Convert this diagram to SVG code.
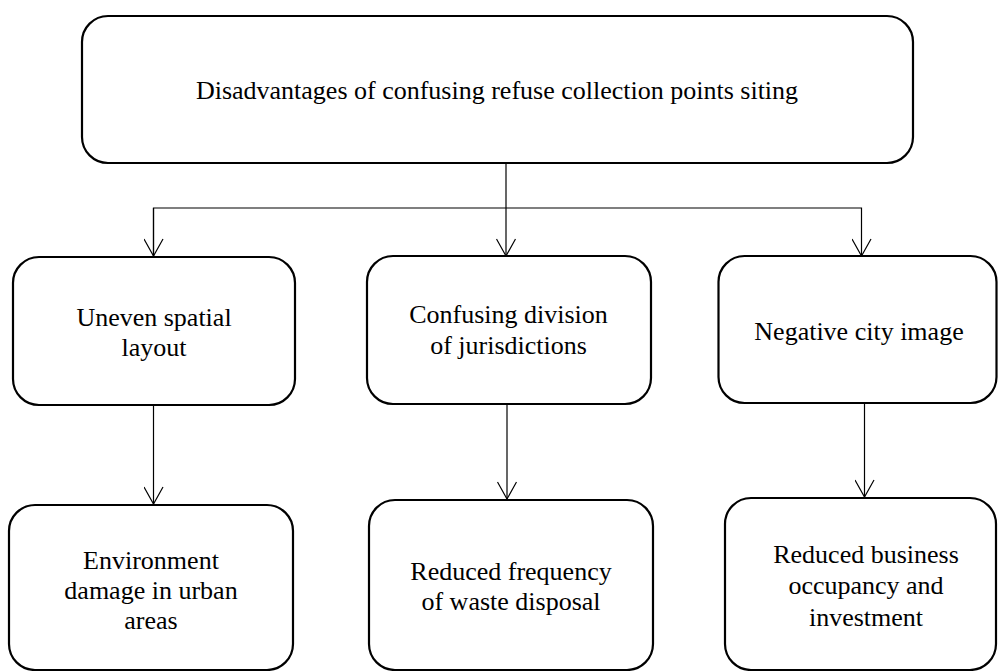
<svg xmlns="http://www.w3.org/2000/svg" width="998" height="671" viewBox="0 0 998 671">
<style>
.box{fill:#fff;stroke:#000;stroke-width:2.2}
.con{fill:none;stroke:#000;stroke-width:1.2}
</style>
<defs>
<marker id="arr" viewBox="0 0 20 20" refX="18" refY="10" markerWidth="20" markerHeight="20" markerUnits="userSpaceOnUse" orient="auto">
<path d="M1,0.5 L18,10 L1,19.5" fill="none" stroke="#000" stroke-width="1.2"/>
</marker>
</defs>
<rect width="998" height="671" fill="#fff"/>
<g id="connectors">
<line class="con" x1="506" y1="163" x2="506" y2="256" marker-end="url(#arr)"/>
<polyline class="con" points="153.5,256 153.5,208 861.5,208 861.5,256" marker-end="url(#arr)"/>
<line class="con" x1="153.5" y1="208" x2="153.5" y2="256" marker-end="url(#arr)"/>
<line class="con" x1="153.5" y1="405" x2="153.5" y2="504" marker-end="url(#arr)"/>
<line class="con" x1="507" y1="404" x2="507" y2="499" marker-end="url(#arr)"/>
<line class="con" x1="864.5" y1="403" x2="864.5" y2="497" marker-end="url(#arr)"/>
</g>
<g id="top">
<rect class="box" x="82" y="16" width="831" height="147" rx="26"/>
<text style="font-family:'Liberation Serif',serif;font-size:26px" font-family="Liberation Serif" font-size="26" text-anchor="middle" x="497" y="99">Disadvantages of confusing refuse collection points siting</text>
</g>
<g id="uneven">
<rect class="box" x="13" y="257" width="282" height="148" rx="26"/>
<text style="font-family:'Liberation Serif',serif;font-size:26px" font-family="Liberation Serif" font-size="26" text-anchor="middle" x="154" y="326">Uneven spatial</text>
<text style="font-family:'Liberation Serif',serif;font-size:26px" font-family="Liberation Serif" font-size="26" text-anchor="middle" x="154" y="356">layout</text>
</g>
<g id="jurisdictions">
<rect class="box" x="367" y="256" width="284" height="148" rx="26"/>
<text style="font-family:'Liberation Serif',serif;font-size:26px" font-family="Liberation Serif" font-size="26" text-anchor="middle" x="508.5" y="323">Confusing division</text>
<text style="font-family:'Liberation Serif',serif;font-size:26px" font-family="Liberation Serif" font-size="26" text-anchor="middle" x="508.5" y="354">of jurisdictions</text>
</g>
<g id="image">
<rect class="box" x="718.5" y="256" width="278" height="147" rx="26"/>
<text style="font-family:'Liberation Serif',serif;font-size:26px" font-family="Liberation Serif" font-size="26" text-anchor="middle" x="859" y="340">Negative city image</text>
</g>
<g id="environment">
<rect class="box" x="9" y="505" width="284" height="165" rx="26"/>
<text style="font-family:'Liberation Serif',serif;font-size:26px" font-family="Liberation Serif" font-size="26" text-anchor="middle" x="151" y="569">Environment</text>
<text style="font-family:'Liberation Serif',serif;font-size:26px" font-family="Liberation Serif" font-size="26" text-anchor="middle" x="151" y="599">damage in urban</text>
<text style="font-family:'Liberation Serif',serif;font-size:26px" font-family="Liberation Serif" font-size="26" text-anchor="middle" x="151" y="629">areas</text>
</g>
<g id="frequency">
<rect class="box" x="369" y="500" width="284" height="170" rx="26"/>
<text style="font-family:'Liberation Serif',serif;font-size:26px" font-family="Liberation Serif" font-size="26" text-anchor="middle" x="511" y="580">Reduced frequency</text>
<text style="font-family:'Liberation Serif',serif;font-size:26px" font-family="Liberation Serif" font-size="26" text-anchor="middle" x="511" y="610">of waste disposal</text>
</g>
<g id="business">
<rect class="box" x="725" y="498" width="271" height="172" rx="26"/>
<text style="font-family:'Liberation Serif',serif;font-size:26px" font-family="Liberation Serif" font-size="26" text-anchor="middle" x="866" y="563">Reduced business</text>
<text style="font-family:'Liberation Serif',serif;font-size:26px" font-family="Liberation Serif" font-size="26" text-anchor="middle" x="866" y="594">occupancy and</text>
<text style="font-family:'Liberation Serif',serif;font-size:26px" font-family="Liberation Serif" font-size="26" text-anchor="middle" x="866" y="626">investment</text>
</g>
</svg>
